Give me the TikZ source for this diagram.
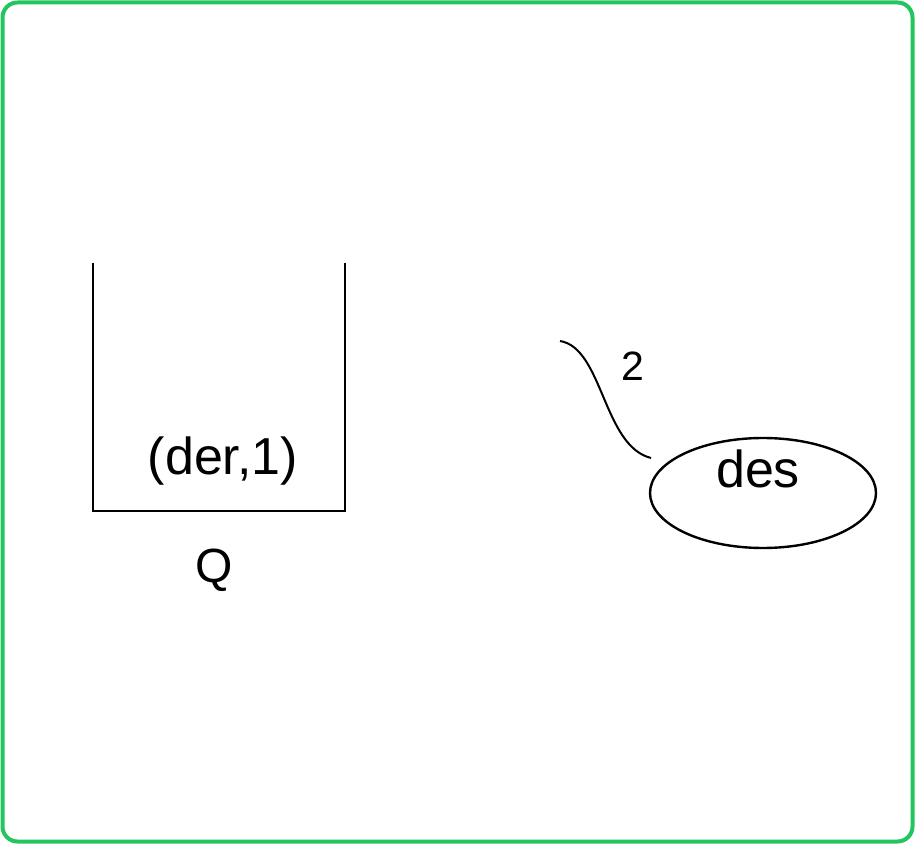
\documentclass[tikz,border=0pt]{standalone}
\usepackage{fontspec}
\setmainfont{Liberation Sans}
\usetikzlibrary{shapes.geometric}
\definecolor{framegreen}{RGB}{34,197,94}
\tikzset{%
  >=latex,
  bucket/.style={line width=1.1pt},
  word/.style={inner sep=0pt, anchor=base, font=\fontsize{26}{30}\selectfont}
}

\begin{document}
\begin{tikzpicture}[x=0.5pt, y=-0.5pt]
     \useasboundingbox (0,0) rectangle (915,844);
     \draw[framegreen, line width=2pt, rounded corners=7.5pt] (2.5,2.5) rectangle (912.5,841.5);

     \draw[bucket] (93,263) -- (93,511) -- (345,511) -- (345,263);
     \node[word] (item) at (223,474) {(der,1)};
     \node[word, font=\fontsize{24}{28}\selectfont] (queue) at (214,582) {Q};

     \node[ellipse, draw, line width=1.2pt, minimum width=113pt, minimum height=55pt] (des) at (763,493) {};
     \node[word] (deslabel) at (758,487) {des};

     \coordinate (tail) at (560,341);
     \coordinate (head) at (651,458);
     \draw[line width=1pt] (tail) .. controls (603,348) and (603,446) .. (head);
     \node[word, font=\fontsize{20.5}{24}\selectfont] (weight) at (633,380) {2};

\end{tikzpicture}
\end{document}
